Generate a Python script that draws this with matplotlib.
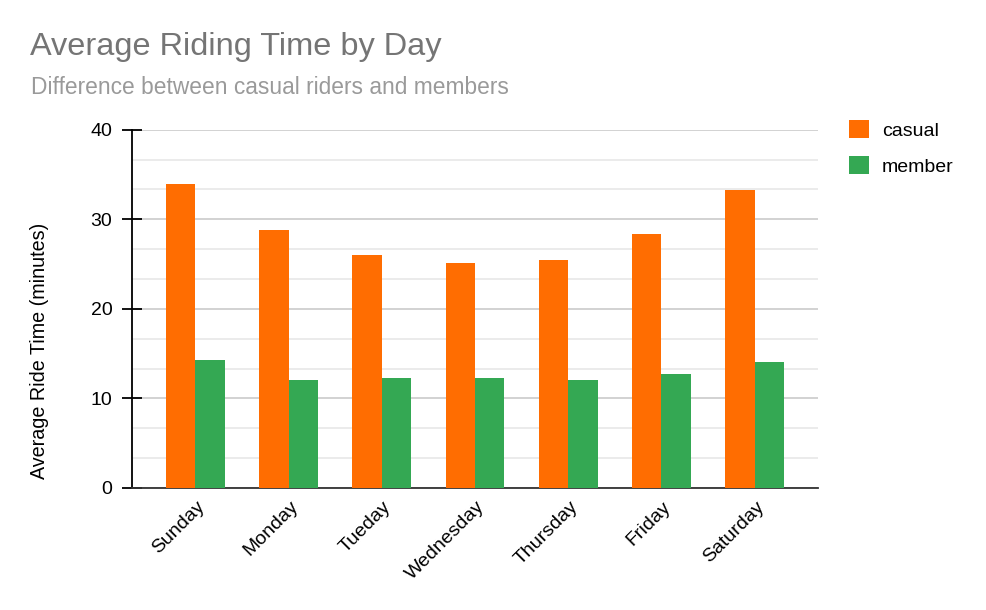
import matplotlib.pyplot as plt
from matplotlib.ticker import MultipleLocator
from matplotlib.patches import Patch
from matplotlib.transforms import ScaledTranslation
import numpy as np

plt.rcParams['font.family'] = ['Liberation Sans', 'DejaVu Sans']

# data
days = ['Sunday', 'Monday', 'Tueday', 'Wednesday', 'Thursday', 'Friday', 'Saturday']
casual = [33.9, 28.8, 26.0, 25.1, 25.4, 28.4, 33.3]
member = [14.3, 12.1, 12.3, 12.3, 12.1, 12.7, 14.1]

colors = {'casual': '#FF6D01', 'member': '#34A853'}

fig = plt.figure(figsize=(9.86, 6.1), dpi=100)
ax = fig.add_axes([132 / 986, 1 - 488 / 610, 686 / 986, (488 - 129.7) / 610])

x = np.arange(len(days))
w = 0.315
ax.bar(x - w / 2, casual, w, color=colors['casual'], zorder=3)
ax.bar(x + w / 2, member, w, color=colors['member'], zorder=3)

ax.set_xlim(-0.68, 6.68)
ax.set_ylim(0, 40)
ax.yaxis.set_major_locator(MultipleLocator(10))
ax.yaxis.set_minor_locator(MultipleLocator(10 / 3))
ax.grid(axis='y', which='major', color='#c6c6c6', linewidth=1.1, zorder=0)
ax.grid(axis='y', which='minor', color='#e6e6e6', linewidth=1.1, zorder=0)

for s in ['top', 'right']:
    ax.spines[s].set_visible(False)
ax.spines['left'].set_color('black')
ax.spines['left'].set_linewidth(1.3)
ax.spines['bottom'].set_color('#333333')
ax.spines['bottom'].set_linewidth(1.3)

ax.tick_params(axis='y', which='major', direction='inout', length=14.4, width=1.3,
               labelsize=14, pad=7)
ax.tick_params(axis='y', which='minor', length=0)
ax.tick_params(axis='x', length=0, pad=11.5)
ax.set_xticks(x)
ax.set_xticklabels(days, rotation=45, ha='right', va='center',
                   rotation_mode='anchor', fontsize=14)
shift = ScaledTranslation(7 / 100, 0, fig.dpi_scale_trans)
for lbl in ax.get_xticklabels():
    lbl.set_transform(lbl.get_transform() + shift)

fig.text(30 / 986, 1 - 47 / 610, 'Average Riding Time by Day', fontsize=23.4,
         color='#757575', va='center', ha='left')
fig.text(31 / 986, 1 - 88 / 610, 'Difference between casual riders and members',
         fontsize=16.4, color='#9a9a9a', va='center', ha='left')
fig.text(40 / 986, 1 - 351 / 610, 'Average Ride Time (minutes)', fontsize=14.2,
         rotation=90, va='center', ha='center', color='black')

handles = [Patch(facecolor=colors['casual'], label='casual'),
           Patch(facecolor=colors['member'], label='member')]
fig.legend(handles=handles, loc='upper left', bbox_to_anchor=(849 / 986, 1 - 120 / 610),
           frameon=False, fontsize=14, handlelength=1.03, handleheight=1.03,
           handletextpad=0.67, labelspacing=0.85, borderpad=0, borderaxespad=0)

fig.savefig('out.png', dpi=100, facecolor='white')
